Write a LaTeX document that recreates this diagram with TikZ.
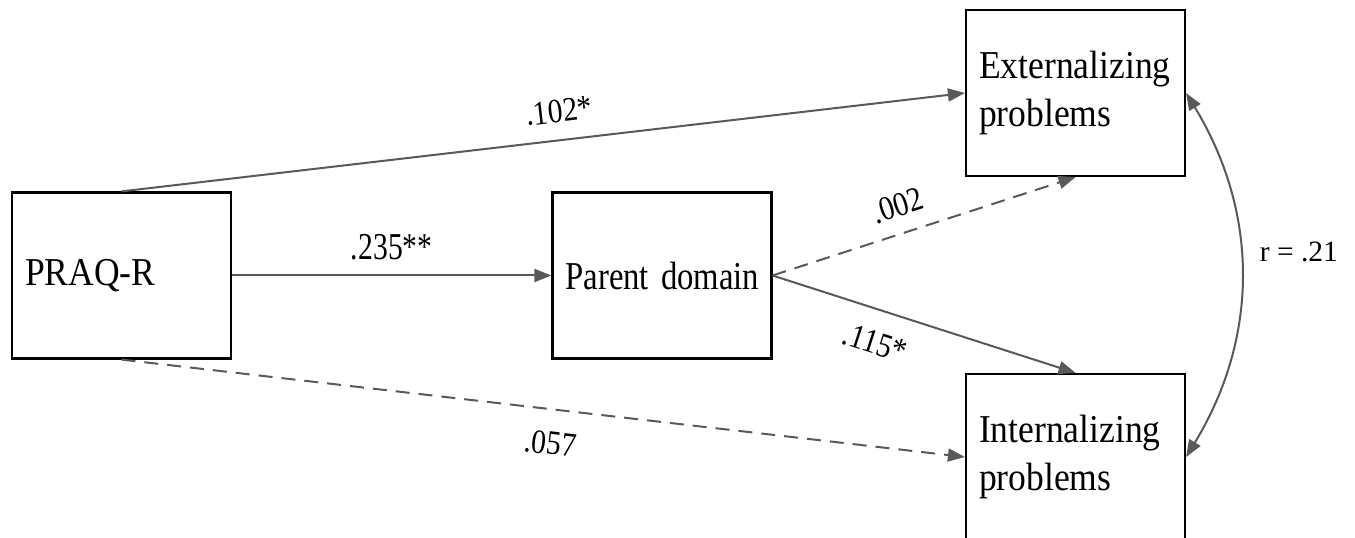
\documentclass[tikz,border=0pt]{standalone}
\usepackage{fontspec}
\usepackage{graphicx}
\setmainfont{Liberation Serif}
\newfontfamily\boxfont{Liberation Serif}[FakeStretch=0.9]
\newfontfamily\coeffont{Liberation Serif}[FakeStretch=0.87]
\newfontfamily\widecoeffont{Liberation Serif}[FakeStretch=0.78]
\usetikzlibrary{arrows.meta}
\definecolor{pathgray}{HTML}{595959}

\begin{document}
\begin{tikzpicture}[x=1pt, y=1pt,
  var/.style={draw=black, line width=2.2pt, text width=193pt,
    inner xsep=13pt, inner ysep=0pt, minimum height=166pt, align=left,
    font=\boxfont\fontsize{39.5}{48}\selectfont},
  link/.style={draw=pathgray, line width=2pt,
    -{Triangle[length=17pt, width=13pt]}},
  twoway/.style={draw=pathgray, line width=2pt,
    {Triangle[length=17pt, width=13pt]}-{Triangle[length=17pt, width=13pt]}},
  ns/.style={dash pattern=on 14pt off 9pt},
  coef/.style={font=\coeffont\fontsize{34}{34}\selectfont, sloped, inner sep=0pt}]

\useasboundingbox (0,0) rectangle (1355,538);

% variables
\node[var] (praq)   at (121.5,262.5) {PRAQ-R};
\node[var] (parent) at (662,262.5)   {\scalebox{0.92}[1]{Parent domain}};
\node[var] (ext)    at (1075.5,445)  {Externalizing\\problems};
\node[var] (int)    at (1075.5,81)   {Internalizing\\problems};

% direct paths
\draw[link] (praq.north) -- node[coef, pos=0.523, above=16.5pt] {.102*} (ext.west);
\draw[link] (praq.east) -- node[coef, pos=0.5, above=14pt,
  font=\widecoeffont\fontsize{38}{38}\selectfont] {.235**} (parent.west);
\draw[link, ns] (praq.south) -- node[coef, pos=0.513, below=21.5pt] {.057} (int.west);

% paths through the mediator
\draw[link, ns] (parent.east) -- node[coef, pos=0.44, above=15.5pt] {.002} (ext.south);
\draw[link] (parent.east) -- node[coef, pos=0.37, below=20.5pt] {.115*} (int.north);

% residual correlation
\draw[twoway] (ext.east) .. controls +(73,-120) and +(73,120) .. (int.east)
  node[pos=0.5, anchor=west, xshift=18pt, yshift=23pt,
    font=\fontsize{29.5}{30}\selectfont, inner sep=0pt] {r = .21};
\end{tikzpicture}
\end{document}
